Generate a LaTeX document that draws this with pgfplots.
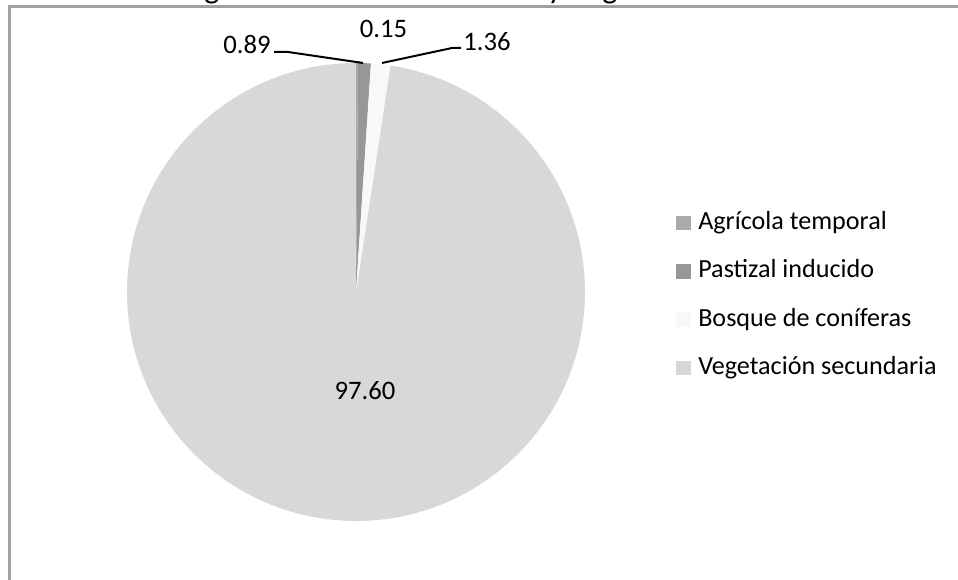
\documentclass[border=0pt]{standalone}
\usepackage{pgfplots}
\pgfplotsset{compat=1.18}
\usepackage{fontspec}
\setmainfont{Carlito}
\definecolor{agri}{HTML}{AAAAAA}
\definecolor{past}{HTML}{979797}
\definecolor{bosq}{HTML}{F8F8F8}
\definecolor{veg}{HTML}{D8D8D8}
\definecolor{frm}{HTML}{A0A0A0}
% values (percent)
\def\vA{0.15}% Agricola temporal
\def\vB{0.89}% Pastizal inducido
\def\vC{1.36}% Bosque de coniferas
\def\vD{97.60}% Vegetacion secundaria
\pgfmathsetmacro\aA{90}
\pgfmathsetmacro\aB{\aA-3.6*\vA}
\pgfmathsetmacro\aC{\aB-3.6*\vB}
\pgfmathsetmacro\aD{\aC-3.6*\vC}
\pgfmathsetmacro\aE{\aD-3.6*\vD}
\def\R{171.75pt}
\begin{document}
\begin{tikzpicture}[x=0.75pt,y=0.75pt]
\clip (0,0) rectangle (958,580);
\begin{axis}[at={(0,0)}, anchor=south west, width=718.5pt, height=435pt,
  scale only axis, xmin=0, xmax=958, ymin=-580, ymax=0, hide axis, clip=false]
% title (clipped at the top, as in the reference)
\node[anchor=base, font=\fontsize{24}{28}\selectfont, inner sep=0] at (axis cs:212,1) {g};
\node[anchor=base, font=\fontsize{24}{28}\selectfont, inner sep=0] at (axis cs:555,1) {y};
\node[anchor=base, font=\fontsize{24}{28}\selectfont, inner sep=0] at (axis cs:610,1) {g};
% frame
\draw[frm, line width=2.4pt] (axis cs:9.5,-580) -- (axis cs:9.5,-6.5) -- (axis cs:970,-6.5);
% pie
\fill[veg]  (axis cs:356,-292) -- ++(\aD:\R) arc[start angle=\aD, end angle=\aE, radius=\R] -- cycle;
\fill[agri] (axis cs:356,-292) -- ++(\aA:\R) arc[start angle=\aA, end angle=\aB, radius=\R] -- cycle;
\fill[past] (axis cs:356,-292) -- ++(\aB:\R) arc[start angle=\aB, end angle=\aC, radius=\R] -- cycle;
\fill[bosq] (axis cs:356,-292) -- ++(\aC:\R) arc[start angle=\aC, end angle=\aD, radius=\R] -- cycle;
% leader lines
\draw[black, line width=1.5pt] (axis cs:274,-52) -- (axis cs:288,-52) -- (axis cs:363,-63);
\draw[black, line width=1.5pt] (axis cs:382,-63) -- (axis cs:452,-48) -- (axis cs:461,-48);
% data labels
\begin{scope}[every node/.style={font=\fontsize{20}{24}\selectfont, inner sep=0}]
\node[anchor=east] at (axis cs:271,-45) {0.89};
\node at (axis cs:383.5,-29) {0.15};
\node[anchor=west] at (axis cs:463,-42) {1.36};
\node at (axis cs:365,-391) {97.60};
\end{scope}
% legend
\fill[agri] (axis cs:676,-216) rectangle (axis cs:691,-230);
\fill[past] (axis cs:676,-264) rectangle (axis cs:691,-279);
\fill[bosq] (axis cs:676,-312) rectangle (axis cs:691,-327);
\fill[veg]  (axis cs:676,-361) rectangle (axis cs:691,-375);
\begin{scope}[every node/.style={font=\fontsize{19.6}{23}\selectfont, inner sep=0, anchor=base west}]
\node at (axis cs:698,-230) {Agrícola temporal};
\node at (axis cs:698,-278) {Pastizal inducido};
\node at (axis cs:698,-327) {Bosque de coníferas};
\node at (axis cs:698,-375) {Vegetación secundaria};
\end{scope}
\end{axis}
\end{tikzpicture}
\end{document}
